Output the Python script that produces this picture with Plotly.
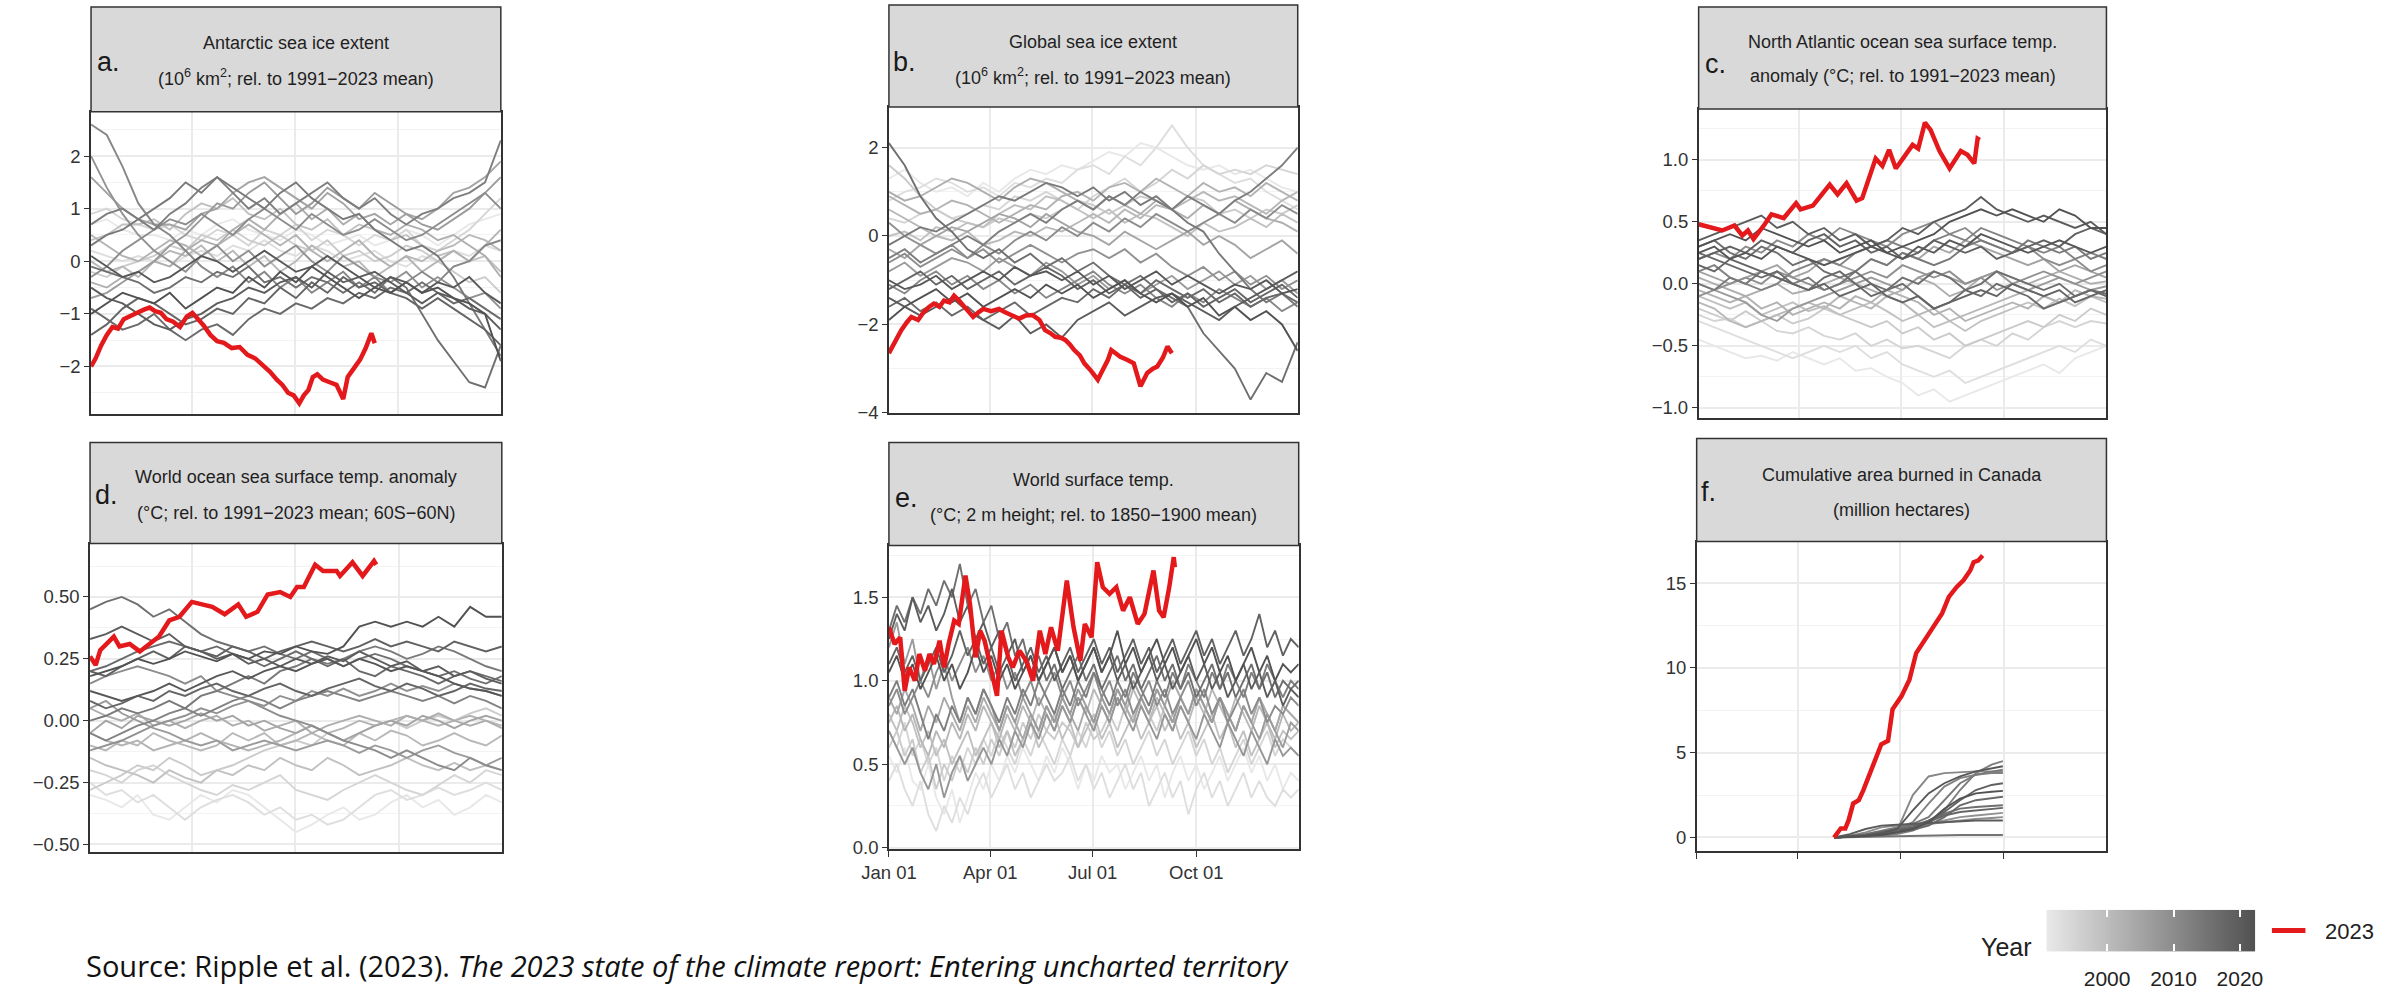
import plotly.graph_objects as go

W, H = 2407, 999
FONT = "Liberation Sans, Arial, sans-serif"
RED = "#E3191C"

# ---------------- day-of-year sampling used by the yearly series ----------------
DAYS_14 = list(range(1, 366, 14))
DAYS_7 = list(range(1, 366, 7))
DAYS_FIRE = [123, 137, 151, 165, 179, 193, 207, 221, 235, 249, 263, 273]

# ---------------- a. Antarctic sea ice extent anomaly (10^6 km2) ----------------
YEARS_A = [1991, 1993, 1995, 1997, 1999, 2001, 2003, 2005, 2007, 2009, 2011, 2013, 2014, 2016, 2018, 2020, 2022,
           2002, 2010, 2017, 2021]
ANTARCTIC = [
    [0.7,0.8,0.6,0.5,0.5,0.4,0.6,0.5,0.7,0.8,0.6,0.5,0.4,0.6,0.5,0.3,0.4,0.5,0.3,0.4,0.6,0.5,0.3,0.5,0.7,0.8,0.9],
    [0.2,0.1,0.0,0.1,0.0,-0.1,0.1,0.2,0.1,0.3,0.2,0.4,0.2,0.1,0.3,0.2,0.0,0.1,0.2,0.0,-0.1,0.1,0.0,0.2,0.1,0.3,0.2],
    [0.9,1.0,0.8,0.7,0.6,0.7,0.5,0.4,0.6,0.5,0.3,0.6,0.5,0.7,0.4,0.6,0.5,0.3,0.5,0.4,0.6,0.3,0.2,0.4,0.6,0.9,1.2],
    [-0.2,-0.3,-0.1,0.0,0.1,0.3,0.2,0.5,0.4,0.6,0.4,0.3,0.5,0.3,0.2,0.4,0.1,0.2,0.0,0.1,0.3,0.2,0.0,-0.2,-0.4,-0.3,-0.6],
    [0.4,0.5,0.7,0.7,0.8,0.6,0.9,1.1,1.0,1.2,0.9,0.8,1.0,0.7,0.6,0.8,0.5,0.7,0.6,0.4,0.5,0.3,0.1,0.2,0.0,0.1,-0.2],
    [0.0,-0.2,-0.1,-0.3,0.0,0.2,0.1,0.3,0.0,0.2,-0.1,0.1,-0.2,0.0,0.3,0.1,-0.1,0.0,-0.3,-0.1,0.1,0.0,0.2,0.3,0.5,0.4,0.2],
    [-0.4,-0.5,-0.3,-0.2,0.0,-0.1,0.2,0.4,0.3,0.6,0.8,0.6,0.9,1.1,0.8,1.0,0.7,0.9,0.6,0.5,0.7,0.6,0.4,0.5,0.3,0.1,-0.3],
    [1.6,1.3,1.0,0.8,0.7,0.7,0.6,0.9,1.0,1.3,1.5,1.6,1.4,1.2,1.0,1.3,1.1,0.8,0.9,0.7,0.9,0.8,1.0,1.3,1.4,1.6,1.9],
    [-0.7,-0.6,-0.4,-0.2,0.0,0.3,0.5,0.8,1.1,1.0,1.3,1.5,1.2,0.9,1.1,1.4,1.2,1.0,1.3,1.1,0.9,0.7,0.6,0.8,1.0,1.3,1.6],
    [2.0,1.4,0.9,0.5,0.2,0.0,-0.2,0.1,0.3,0.0,0.2,-0.1,0.1,0.3,0.0,-0.2,0.1,-0.1,-0.3,-0.4,-0.2,-0.5,-0.3,-0.5,-0.7,-0.6,-0.9],
    [2.6,2.4,1.8,1.1,0.7,0.5,0.2,-0.1,-0.3,-0.1,-0.4,-0.2,-0.5,-0.3,-0.6,-0.4,-0.2,-0.5,-0.3,-0.6,-0.4,-0.2,-0.4,-0.1,0.0,0.3,0.4],
    [0.7,0.9,1.0,0.8,0.6,0.9,1.1,1.4,1.6,1.3,1.0,1.2,0.9,1.1,1.3,1.5,1.2,1.0,1.2,0.9,0.7,0.9,1.0,1.2,1.3,1.5,2.3],
    [0.3,0.5,0.6,0.8,1.0,1.2,1.5,1.3,1.6,1.4,1.2,1.0,1.3,1.5,1.2,1.0,0.8,0.9,0.6,0.4,0.2,0.3,0.1,-0.3,-0.8,-1.3,-1.8],
    [-0.1,-0.2,-0.3,-0.4,-0.6,-0.5,-0.3,-0.4,-0.2,-0.3,-0.1,-0.4,-0.3,-0.5,-0.3,-0.4,-0.6,-0.4,-0.6,-0.3,-0.5,-1.0,-1.5,-1.9,-2.3,-2.4,-1.6],
    [-1.4,-1.2,-0.9,-0.7,-0.8,-1.0,-1.2,-1.1,-0.9,-1.0,-0.7,-0.8,-0.5,-0.7,-0.4,-0.6,-0.3,-0.5,-0.4,-0.6,-0.7,-0.9,-0.7,-0.9,-1.1,-1.3,-1.6],
    [-0.5,-0.7,-0.8,-1.0,-1.2,-1.3,-1.1,-1.0,-0.8,-0.7,-0.5,-0.6,-0.4,-0.3,-0.5,-0.2,-0.4,-0.3,-0.2,-0.4,-0.6,-0.8,-0.6,-0.7,-0.9,-1.0,-1.3],
    [-1.0,-0.8,-0.6,-0.7,-0.8,-0.6,-0.9,-0.7,-0.5,-0.6,-0.3,-0.5,-0.2,-0.4,-0.1,-0.3,-0.5,-0.7,-0.5,-0.6,-0.4,-0.6,-0.5,-0.7,-0.8,-1.0,-1.9],
    [0.5,0.3,0.1,0.0,0.2,0.4,0.3,0.1,0.3,0.5,0.7,0.5,0.3,0.5,0.2,0.0,0.2,0.4,0.1,-0.1,0.1,-0.2,0.0,0.2,0.0,0.3,0.6],
    [-0.3,-0.1,0.2,0.4,0.6,0.8,0.7,0.9,0.7,0.5,0.8,1.0,0.8,0.6,0.9,0.7,0.5,0.6,0.8,0.6,0.4,0.5,0.7,0.9,1.1,1.3,1.0],
    [-0.9,-1.1,-1.3,-1.2,-1.0,-1.3,-1.5,-1.3,-1.2,-1.4,-1.1,-0.9,-1.0,-0.8,-0.9,-0.7,-0.8,-0.6,-0.7,-0.5,-0.6,-0.4,-0.6,-0.8,-0.7,-0.9,-1.1],
    [0.1,-0.1,-0.3,-0.2,-0.4,-0.3,-0.1,0.1,0.0,-0.2,0.0,0.2,0.0,-0.2,-0.1,0.1,-0.1,-0.3,-0.5,-0.3,-0.4,-0.6,-0.4,-0.5,-0.3,-0.6,-0.8],
]
ANTARCTIC_2023_DAYS = [1,5,10,15,20,25,30,36,42,48,53,58,63,68,74,80,86,91,96,101,107,113,119,126,133,140,147,154,160,166,
                       171,176,181,186,190,194,198,202,207,213,219,225,229,234,240,245,250,253]
ANTARCTIC_2023 = [-2.0,-1.85,-1.6,-1.4,-1.25,-1.28,-1.1,-1.05,-0.98,-0.92,-0.88,-0.95,-0.98,-1.1,-1.15,-1.25,-1.05,-0.98,-1.1,-1.22,
                  -1.4,-1.52,-1.55,-1.65,-1.63,-1.78,-1.85,-1.98,-2.1,-2.25,-2.35,-2.5,-2.55,-2.7,-2.55,-2.45,-2.2,-2.15,-2.25,-2.3,
                  -2.35,-2.62,-2.2,-2.05,-1.87,-1.65,-1.37,-1.56]

# ---------------- b. Global sea ice extent anomaly (10^6 km2) ----------------
YEARS_B = YEARS_A
GLOBAL_ICE = [
    [1.3,1.5,1.2,1.0,1.1,0.9,1.2,1.0,1.3,1.5,1.4,1.6,1.5,1.7,1.9,1.8,2.1,2.0,1.8,1.6,1.5,1.6,1.4,1.5,1.3,1.1,1.0],
    [0.8,1.0,1.1,1.3,1.2,1.0,1.1,0.9,1.2,1.1,1.3,1.2,1.5,1.6,1.4,1.8,1.6,2.0,2.5,2.0,1.6,1.4,1.2,1.3,1.0,0.8,0.6],
    [0.4,0.3,0.5,0.6,0.4,0.5,0.7,0.6,0.9,0.8,1.0,0.8,0.6,0.9,1.1,1.3,1.0,1.2,1.5,1.3,1.6,1.4,1.5,1.4,1.6,1.5,1.4],
    [1.6,1.3,0.9,0.6,0.4,0.3,0.2,0.4,0.3,0.5,0.4,0.6,0.8,0.7,0.5,0.7,0.9,0.8,0.6,0.9,0.8,0.5,0.6,0.4,0.6,0.5,0.7],
    [0.0,0.1,-0.1,0.2,0.1,0.3,0.2,0.5,0.7,0.6,0.9,0.8,0.6,0.4,0.6,0.3,0.5,0.4,0.2,0.0,0.3,0.1,0.2,0.4,0.2,0.5,0.3],
    [0.6,0.4,0.2,0.0,-0.1,0.1,-0.2,-0.1,0.1,0.0,0.2,0.1,0.3,0.5,0.3,0.6,0.4,0.7,0.6,0.8,1.0,0.8,0.9,0.7,0.5,0.8,1.0],
    [1.0,0.8,0.9,1.1,1.3,1.2,1.0,0.8,1.1,1.3,1.2,1.0,0.8,0.6,0.9,0.7,0.5,0.8,0.6,0.4,0.7,0.5,0.8,0.6,0.4,0.3,0.1],
    [-0.3,-0.5,-0.2,0.0,0.2,0.1,0.3,0.5,0.4,0.2,0.5,0.3,0.1,0.0,-0.2,0.1,-0.1,-0.3,-0.1,0.1,-0.2,0.0,-0.2,-0.5,-0.3,-0.1,-0.4],
    [-0.8,-0.6,-0.9,-0.7,-0.5,-0.6,-0.8,-0.5,-0.7,-0.9,-0.6,-0.8,-1.1,-0.9,-1.2,-1.0,-1.3,-1.1,-0.9,-1.2,-1.0,-0.8,-1.1,-0.9,-1.2,-1.0,-1.3],
    [0.3,0.0,-0.2,-0.4,-0.2,-0.5,-0.3,-0.6,-0.4,-0.2,-0.4,-0.6,-0.4,-0.3,-0.5,-0.3,-0.6,-0.4,-0.7,-0.9,-0.7,-1.0,-0.8,-1.1,-0.9,-1.2,-1.0],
    [-1.1,-1.3,-1.0,-0.8,-1.1,-0.9,-1.2,-1.0,-1.3,-1.1,-1.4,-1.2,-1.0,-0.8,-1.1,-1.3,-1.1,-1.4,-1.6,-1.3,-1.5,-1.2,-1.4,-1.6,-1.4,-1.7,-1.5],
    [-0.5,-0.3,-0.6,-0.4,-0.2,0.0,-0.2,0.1,0.3,0.5,0.3,0.6,0.8,0.6,0.9,0.7,1.0,0.8,0.6,0.9,0.7,0.5,0.8,1.0,1.3,1.6,2.0],
    [-0.2,0.0,0.2,0.1,0.3,0.5,0.7,0.9,0.8,1.0,1.2,1.1,0.9,1.1,0.8,1.0,0.7,0.9,0.6,0.3,0.1,-0.4,-0.8,-1.2,-1.5,-1.3,-1.6],
    [2.1,1.6,0.9,0.4,0.1,-0.3,-0.5,-0.3,-0.6,-0.4,-0.7,-0.5,-0.8,-0.6,-0.9,-1.1,-0.9,-1.2,-1.4,-1.6,-2.2,-2.6,-3.0,-3.7,-3.1,-3.3,-2.4],
    [-1.2,-1.0,-0.8,-1.1,-0.9,-1.2,-1.0,-0.8,-1.1,-0.9,-0.7,-0.9,-1.2,-1.0,-1.3,-1.1,-1.4,-1.2,-1.5,-1.3,-1.6,-1.4,-1.2,-1.5,-1.3,-1.1,-1.4],
    [-1.4,-1.6,-1.8,-1.6,-1.4,-1.7,-1.9,-2.1,-1.8,-2.2,-2.0,-2.3,-1.9,-1.7,-1.5,-1.8,-1.6,-1.4,-1.3,-1.5,-1.7,-1.9,-1.6,-1.4,-1.2,-1.0,-0.8],
    [-1.9,-1.6,-1.4,-1.2,-1.5,-1.3,-1.6,-1.4,-1.2,-1.4,-1.1,-1.3,-1.1,-1.4,-1.2,-1.0,-1.3,-1.5,-1.3,-1.6,-1.4,-1.8,-1.6,-1.9,-1.7,-2.0,-2.6],
    [0.9,0.7,0.5,0.6,0.8,0.7,0.5,0.3,0.5,0.7,0.6,0.9,1.0,0.8,1.1,1.2,1.0,1.3,1.1,0.9,1.2,1.0,1.1,0.9,1.2,1.0,0.8],
    [-0.6,-0.4,-0.7,-0.5,-0.3,-0.5,-0.2,-0.4,-0.1,0.1,-0.1,0.2,0.0,0.3,0.1,0.4,0.2,0.5,0.3,0.1,0.3,0.5,0.3,0.6,0.4,0.7,0.5],
    [-1.6,-1.4,-1.7,-1.5,-1.8,-1.6,-1.9,-1.7,-1.5,-1.8,-1.6,-1.4,-1.5,-1.2,-1.4,-1.1,-1.3,-1.0,-1.2,-1.4,-1.2,-1.5,-1.3,-1.6,-1.4,-1.3,-1.5],
    [-1.0,-1.2,-1.1,-0.9,-1.2,-1.0,-0.8,-1.0,-0.7,-0.9,-0.8,-1.0,-0.8,-1.1,-0.9,-1.2,-1.0,-0.8,-1.1,-0.9,-1.1,-1.3,-1.1,-1.2,-1.0,-1.3,-1.2],
]
GLOBAL_ICE_2023_DAYS = [1,6,12,17,21,27,32,37,41,46,50,55,59,63,68,72,76,81,85,92,99,104,108,113,117,123,129,135,140,145,
                        149,154,158,162,166,171,175,181,187,190,193,196,199,203,207,213,219,225,231,236,240,245,249,253]
GLOBAL_ICE_2023 = [-2.65,-2.4,-2.13,-1.95,-1.83,-1.9,-1.72,-1.6,-1.53,-1.6,-1.46,-1.5,-1.35,-1.45,-1.61,-1.7,-1.83,-1.72,-1.65,-1.7,
                   -1.65,-1.72,-1.76,-1.82,-1.87,-1.8,-1.79,-1.9,-2.13,-2.2,-2.28,-2.3,-2.35,-2.45,-2.58,-2.7,-2.88,-3.05,-3.25,-3.1,
                   -2.95,-2.8,-2.58,-2.65,-2.73,-2.8,-2.88,-3.4,-3.1,-3.0,-2.95,-2.75,-2.5,-2.65]

# ---------------- c. North Atlantic SST anomaly (deg C) ----------------
YEARS_C = [1991, 1993, 1995, 1997, 1999, 2001, 2003, 2005, 2007, 2010, 2012, 2014, 2016, 2017, 2019, 2020, 2022,
           2002, 2009, 2018, 2021]
NATL_SST = [
    [-0.45,-0.5,-0.55,-0.6,-0.58,-0.62,-0.55,-0.6,-0.65,-0.6,-0.7,-0.68,-0.75,-0.8,-0.9,-0.85,-0.95,-0.9,-0.85,-0.8,-0.75,-0.7,-0.65,-0.72,-0.6,-0.55,-0.5],
    [-0.3,-0.35,-0.4,-0.45,-0.5,-0.55,-0.6,-0.55,-0.5,-0.55,-0.5,-0.6,-0.55,-0.65,-0.7,-0.75,-0.7,-0.8,-0.75,-0.7,-0.65,-0.6,-0.55,-0.5,-0.55,-0.45,-0.5],
    [-0.25,-0.3,-0.28,-0.35,-0.3,-0.38,-0.4,-0.35,-0.42,-0.45,-0.4,-0.5,-0.45,-0.52,-0.5,-0.55,-0.6,-0.5,-0.45,-0.5,-0.4,-0.45,-0.35,-0.3,-0.35,-0.3,-0.32],
    [-0.2,-0.25,-0.3,-0.22,-0.3,-0.25,-0.32,-0.28,-0.2,-0.25,-0.3,-0.35,-0.3,-0.4,-0.35,-0.45,-0.4,-0.5,-0.45,-0.4,-0.35,-0.3,-0.35,-0.25,-0.3,-0.2,-0.25],
    [-0.1,-0.15,-0.2,-0.15,-0.25,-0.2,-0.15,-0.22,-0.18,-0.25,-0.2,-0.15,-0.22,-0.3,-0.25,-0.35,-0.3,-0.38,-0.3,-0.25,-0.2,-0.15,-0.2,-0.12,-0.18,-0.1,-0.15],
    [-0.15,-0.2,-0.3,-0.35,-0.3,-0.25,-0.2,-0.15,-0.2,-0.1,-0.15,-0.2,-0.1,-0.15,-0.25,-0.2,-0.3,-0.25,-0.2,-0.15,-0.1,-0.05,-0.1,-0.15,-0.05,-0.1,-0.12],
    [0.05,0.0,-0.05,-0.1,-0.05,0.0,-0.08,-0.05,0.0,0.05,0.0,-0.05,-0.1,-0.05,0.05,0.0,-0.1,-0.05,0.05,0.1,0.05,0.0,0.05,0.1,0.05,0.0,0.02],
    [0.1,0.05,0.0,0.05,0.1,0.15,0.05,0.1,0.2,0.15,0.1,0.2,0.15,0.25,0.2,0.3,0.25,0.35,0.3,0.25,0.2,0.15,0.2,0.1,0.15,0.1,0.05],
    [0.0,-0.05,-0.1,-0.15,-0.25,-0.3,-0.2,-0.15,-0.1,-0.05,0.0,0.05,0.0,-0.05,0.05,0.1,0.05,0.0,0.05,0.1,0.0,-0.05,0.0,0.05,0.0,-0.05,-0.02],
    [0.2,0.25,0.2,0.3,0.25,0.35,0.3,0.4,0.35,0.45,0.4,0.35,0.3,0.4,0.45,0.5,0.4,0.45,0.35,0.3,0.25,0.3,0.2,0.15,0.2,0.1,0.15],
    [0.1,0.15,0.05,0.0,-0.05,0.0,0.1,0.15,0.2,0.15,0.25,0.3,0.35,0.3,0.25,0.35,0.4,0.35,0.45,0.4,0.35,0.3,0.25,0.3,0.2,0.25,0.2],
    [0.0,-0.05,0.05,0.0,0.1,0.05,0.0,0.05,-0.05,0.0,0.1,0.2,0.15,0.25,0.2,0.15,0.2,0.3,0.35,0.3,0.25,0.35,0.3,0.25,0.3,0.2,0.25],
    [0.3,0.35,0.25,0.2,0.3,0.25,0.15,0.2,0.1,0.05,0.1,0.0,-0.05,0.05,0.0,0.1,0.05,-0.05,0.0,0.1,0.05,0.0,-0.05,0.0,-0.1,-0.05,-0.08],
    [0.25,0.2,0.15,0.1,0.05,0.1,0.0,-0.05,0.05,0.1,0.0,-0.1,-0.05,0.0,-0.1,-0.2,-0.15,-0.05,-0.1,0.0,-0.05,-0.1,-0.2,-0.15,-0.1,-0.05,-0.1],
    [0.2,0.25,0.3,0.25,0.35,0.3,0.25,0.35,0.4,0.3,0.35,0.25,0.3,0.2,0.25,0.35,0.3,0.25,0.3,0.2,0.25,0.3,0.35,0.3,0.4,0.45,0.4],
    [0.35,0.4,0.45,0.5,0.55,0.45,0.5,0.4,0.45,0.35,0.4,0.3,0.35,0.45,0.4,0.5,0.55,0.6,0.7,0.6,0.55,0.5,0.55,0.5,0.45,0.5,0.4],
    [0.3,0.35,0.4,0.35,0.45,0.4,0.35,0.3,0.35,0.25,0.3,0.35,0.25,0.3,0.35,0.4,0.5,0.55,0.6,0.55,0.6,0.55,0.5,0.6,0.55,0.45,0.45],
    [-0.05,-0.1,-0.15,-0.1,-0.2,-0.15,-0.25,-0.2,-0.15,-0.2,-0.1,-0.15,-0.05,-0.1,-0.15,-0.25,-0.2,-0.3,-0.25,-0.2,-0.15,-0.2,-0.1,-0.15,-0.1,-0.05,-0.1],
    [-0.1,-0.05,0.0,0.05,0.0,0.1,0.05,0.0,-0.05,0.0,0.05,0.1,0.05,0.15,0.1,0.05,0.1,0.0,0.05,-0.05,0.0,0.05,0.1,0.05,0.0,0.05,0.1],
    [0.15,0.1,0.2,0.15,0.1,0.05,0.0,-0.05,0.0,-0.1,-0.05,0.0,-0.1,-0.15,-0.1,-0.2,-0.15,-0.1,-0.05,-0.1,0.0,-0.05,-0.1,-0.05,-0.15,-0.1,-0.05],
    [0.25,0.3,0.2,0.25,0.2,0.3,0.25,0.2,0.15,0.2,0.25,0.3,0.25,0.2,0.3,0.25,0.35,0.3,0.4,0.35,0.3,0.25,0.3,0.35,0.3,0.25,0.3],
]
NATL_SST_2023_DAYS = [1,10,22,33,40,45,50,60,66,77,88,92,103,118,125,133,142,147,159,165,171,177,185,192,197,203,208,216,225,235,241,247,250,252]
NATL_SST_2023 = [0.48,0.46,0.43,0.47,0.39,0.43,0.36,0.48,0.56,0.53,0.65,0.60,0.63,0.80,0.72,0.81,0.67,0.69,1.01,0.95,
                 1.08,0.93,1.04,1.12,1.09,1.30,1.24,1.07,0.93,1.07,1.04,0.97,1.17,1.16]

# ---------------- d. World ocean SST anomaly, 60S-60N (deg C) ----------------
YEARS_D = YEARS_C
WORLD_SST = [
    [-0.3,-0.32,-0.35,-0.3,-0.38,-0.4,-0.35,-0.3,-0.33,-0.28,-0.3,-0.35,-0.4,-0.45,-0.42,-0.38,-0.35,-0.4,-0.38,-0.33,-0.3,-0.35,-0.32,-0.38,-0.35,-0.3,-0.33],
    [-0.25,-0.3,-0.28,-0.33,-0.3,-0.35,-0.4,-0.35,-0.32,-0.3,-0.33,-0.38,-0.35,-0.4,-0.38,-0.42,-0.4,-0.35,-0.3,-0.28,-0.32,-0.3,-0.27,-0.3,-0.28,-0.25,-0.28],
    [-0.2,-0.22,-0.25,-0.2,-0.18,-0.22,-0.25,-0.28,-0.3,-0.26,-0.28,-0.25,-0.22,-0.28,-0.3,-0.32,-0.28,-0.25,-0.22,-0.25,-0.28,-0.3,-0.26,-0.22,-0.25,-0.2,-0.22],
    [-0.28,-0.25,-0.22,-0.18,-0.2,-0.15,-0.18,-0.22,-0.2,-0.18,-0.15,-0.12,-0.1,-0.08,-0.1,-0.05,-0.08,-0.05,-0.02,0.0,-0.03,0.0,0.02,0.0,0.03,0.05,0.02],
    [-0.15,-0.18,-0.2,-0.22,-0.25,-0.2,-0.23,-0.25,-0.2,-0.22,-0.18,-0.2,-0.15,-0.18,-0.2,-0.15,-0.18,-0.22,-0.2,-0.18,-0.15,-0.18,-0.2,-0.17,-0.2,-0.18,-0.2],
    [-0.1,-0.12,-0.08,-0.1,-0.05,-0.08,-0.1,-0.12,-0.1,-0.05,-0.08,-0.05,-0.1,-0.08,-0.05,-0.08,-0.1,-0.05,-0.08,-0.04,-0.06,-0.1,-0.08,-0.05,-0.08,-0.1,-0.06],
    [0.05,0.02,0.0,0.03,-0.02,0.0,-0.03,0.0,0.02,-0.02,0.0,-0.04,-0.02,0.0,-0.05,-0.02,0.0,0.02,0.0,-0.02,0.02,0.0,0.03,0.0,-0.02,0.0,-0.03],
    [-0.05,0.0,-0.03,0.02,0.0,-0.02,0.0,0.03,0.0,0.02,-0.02,0.0,-0.03,-0.05,-0.02,-0.05,-0.08,-0.05,-0.02,0.0,-0.02,0.02,0.0,-0.03,0.0,0.02,0.0],
    [0.05,0.08,0.03,0.0,-0.03,-0.05,-0.08,-0.1,-0.08,-0.12,-0.1,-0.08,-0.1,-0.12,-0.1,-0.08,-0.1,-0.13,-0.1,-0.12,-0.15,-0.12,-0.1,-0.13,-0.15,-0.18,-0.15],
    [0.15,0.18,0.2,0.22,0.2,0.18,0.15,0.18,0.12,0.1,0.08,0.05,0.02,0.0,-0.02,-0.05,-0.08,-0.1,-0.12,-0.15,-0.12,-0.15,-0.18,-0.2,-0.15,-0.18,-0.2],
    [-0.05,-0.08,-0.05,-0.02,0.0,0.03,0.05,0.02,0.05,0.08,0.1,0.08,0.05,0.08,0.1,0.12,0.1,0.08,0.1,0.12,0.1,0.08,0.1,0.07,0.1,0.08,0.05],
    [0.0,0.02,0.05,0.03,0.05,0.08,0.05,0.1,0.12,0.15,0.18,0.15,0.2,0.22,0.25,0.23,0.25,0.28,0.3,0.28,0.25,0.27,0.3,0.28,0.25,0.22,0.2],
    [0.45,0.48,0.5,0.47,0.42,0.45,0.4,0.35,0.32,0.3,0.28,0.3,0.27,0.25,0.28,0.25,0.22,0.25,0.27,0.25,0.22,0.2,0.18,0.2,0.17,0.15,0.18],
    [0.2,0.22,0.25,0.28,0.3,0.32,0.3,0.28,0.3,0.27,0.25,0.22,0.25,0.28,0.25,0.22,0.25,0.2,0.18,0.22,0.2,0.18,0.15,0.18,0.2,0.18,0.16],
    [0.2,0.18,0.22,0.25,0.28,0.25,0.3,0.28,0.26,0.3,0.28,0.25,0.28,0.3,0.32,0.3,0.28,0.3,0.33,0.3,0.32,0.3,0.28,0.32,0.3,0.28,0.3],
    [0.33,0.35,0.38,0.35,0.32,0.35,0.3,0.28,0.25,0.27,0.23,0.25,0.22,0.25,0.23,0.26,0.24,0.28,0.25,0.22,0.24,0.2,0.22,0.18,0.2,0.17,0.15],
    [0.18,0.2,0.22,0.25,0.23,0.25,0.28,0.26,0.24,0.27,0.25,0.28,0.27,0.3,0.28,0.27,0.3,0.38,0.4,0.38,0.4,0.38,0.42,0.38,0.46,0.42,0.42],
    [-0.05,-0.08,-0.1,-0.08,-0.12,-0.1,-0.08,-0.05,-0.08,-0.1,-0.12,-0.1,-0.08,-0.05,-0.02,-0.05,-0.03,0.0,-0.02,0.0,0.02,0.0,-0.02,0.0,0.02,0.0,-0.02],
    [-0.12,-0.1,-0.08,-0.05,-0.02,0.0,0.02,0.05,0.03,0.06,0.08,0.06,0.1,0.08,0.12,0.1,0.13,0.1,0.12,0.15,0.12,0.14,0.12,0.15,0.13,0.12,0.1],
    [0.08,0.05,0.07,0.1,0.08,0.12,0.1,0.13,0.15,0.12,0.1,0.13,0.15,0.12,0.1,0.13,0.15,0.17,0.14,0.12,0.15,0.13,0.1,0.12,0.15,0.13,0.12],
    [0.12,0.1,0.08,0.1,0.12,0.15,0.12,0.15,0.18,0.2,0.17,0.2,0.22,0.2,0.23,0.25,0.22,0.25,0.23,0.2,0.22,0.2,0.18,0.15,0.13,0.12,0.1],
]
WORLD_SST_2023_DAYS = [1,6,10,22,27,36,45,53,62,71,80,91,100,109,120,132,139,149,158,169,178,184,190,200,207,219,222,233,242,248,252,254]
WORLD_SST_2023 = [0.26,0.225,0.285,0.34,0.30,0.31,0.28,0.31,0.34,0.405,0.42,0.48,0.47,0.46,0.43,0.47,0.42,0.44,0.51,0.52,
                  0.50,0.54,0.54,0.63,0.605,0.605,0.585,0.64,0.585,0.62,0.645,0.63]

# ---------------- e. World surface air temperature (deg C above 1850-1900) ----------------
YEARS_E = [1991, 1993, 1995, 1997, 1999, 2001, 2004, 2007, 2008, 2010, 2013, 2016, 2019, 2020, 2022]
SURFACE_TEMP = [
    [0.55,0.45,0.6,0.4,0.35,0.5,0.3,0.2,0.35,0.15,0.3,0.45,0.35,0.5,0.4,0.55,0.45,0.6,0.5,0.4,0.55,0.45,0.6,0.5,0.35,0.5,0.4,0.55,0.45,0.5,0.35,0.45,0.55,0.4,0.5,0.3,0.45,0.55,0.4,0.5,0.35,0.45,0.55,0.4,0.5,0.6,0.45,0.55,0.4,0.5,0.35,0.45,0.4],
    [0.4,0.5,0.35,0.25,0.4,0.2,0.1,0.25,0.15,0.3,0.2,0.35,0.45,0.3,0.4,0.5,0.35,0.45,0.3,0.4,0.5,0.4,0.45,0.55,0.4,0.5,0.35,0.45,0.3,0.4,0.5,0.35,0.45,0.25,0.35,0.45,0.3,0.4,0.2,0.35,0.45,0.3,0.4,0.25,0.35,0.45,0.3,0.4,0.3,0.25,0.35,0.3,0.35],
    [0.7,0.6,0.75,0.55,0.65,0.5,0.6,0.4,0.55,0.45,0.6,0.5,0.65,0.55,0.7,0.6,0.5,0.65,0.55,0.7,0.6,0.5,0.65,0.55,0.7,0.6,0.75,0.6,0.7,0.55,0.65,0.5,0.6,0.7,0.55,0.65,0.5,0.6,0.7,0.55,0.65,0.5,0.6,0.45,0.55,0.65,0.5,0.6,0.7,0.55,0.65,0.6,0.55],
    [0.6,0.7,0.55,0.65,0.45,0.55,0.35,0.5,0.4,0.55,0.45,0.6,0.5,0.65,0.55,0.7,0.6,0.75,0.65,0.8,0.7,0.65,0.75,0.7,0.6,0.75,0.65,0.7,0.8,0.7,0.85,0.75,0.9,0.8,0.7,0.85,0.75,0.9,0.8,0.95,0.85,0.75,0.9,0.8,0.7,0.85,0.75,0.9,0.8,0.7,0.85,0.8,0.75],
    [0.8,0.7,0.85,0.75,0.6,0.7,0.55,0.65,0.5,0.6,0.7,0.55,0.65,0.75,0.6,0.7,0.55,0.65,0.75,0.6,0.7,0.8,0.65,0.75,0.6,0.7,0.8,0.65,0.75,0.6,0.7,0.8,0.65,0.75,0.85,0.7,0.8,0.65,0.75,0.6,0.7,0.8,0.65,0.75,0.6,0.7,0.55,0.65,0.75,0.6,0.7,0.65,0.7],
    [0.75,0.85,0.7,0.8,0.65,0.55,0.7,0.6,0.75,0.65,0.8,0.7,0.85,0.75,0.65,0.8,0.7,0.85,0.75,0.9,0.8,0.7,0.85,0.75,0.9,0.8,0.95,0.85,0.75,0.9,0.8,0.95,0.85,0.75,0.9,0.8,0.7,0.85,0.75,0.9,0.8,0.95,0.85,0.75,0.9,0.8,0.7,0.85,0.75,0.65,0.8,0.7,0.75],
    [0.9,0.8,0.95,0.85,0.7,0.85,0.75,0.9,0.8,0.7,0.85,0.75,0.9,0.8,0.7,0.85,0.75,0.65,0.8,0.7,0.85,0.75,0.9,0.8,0.7,0.85,0.75,0.9,0.8,0.95,0.85,0.75,0.9,0.8,0.95,0.85,1.0,0.9,0.8,0.95,0.85,0.75,0.9,0.8,0.7,0.85,0.75,0.9,0.8,0.7,0.85,0.8,0.75],
    [1.2,1.35,1.1,1.25,1.0,1.15,0.95,1.1,0.9,0.75,0.9,0.8,0.95,0.85,0.7,0.85,0.75,0.9,0.8,0.7,0.85,0.75,0.9,0.8,0.95,0.85,0.75,0.9,0.8,0.95,0.85,1.0,0.9,0.8,0.95,0.85,0.75,0.9,0.8,0.95,0.85,0.75,0.9,0.8,0.7,0.85,0.75,0.65,0.8,0.7,0.6,0.75,0.7],
    [0.7,0.6,0.5,0.6,0.45,0.35,0.5,0.3,0.45,0.55,0.4,0.5,0.6,0.5,0.65,0.55,0.7,0.6,0.75,0.65,0.8,0.7,0.85,0.75,0.9,0.8,0.7,0.85,0.75,0.9,0.8,0.7,0.85,0.75,0.65,0.8,0.7,0.85,0.75,0.65,0.8,0.7,0.6,0.75,0.65,0.55,0.7,0.6,0.5,0.65,0.55,0.6,0.55],
    [0.85,0.95,0.8,0.9,1.0,0.9,1.05,1.15,1.0,1.1,1.2,1.05,1.15,1.0,1.1,0.95,1.05,0.9,1.0,0.85,0.95,1.05,0.9,1.0,0.85,0.95,1.05,0.9,1.0,0.85,0.95,0.8,0.9,1.0,0.85,0.95,0.8,0.9,1.0,0.85,0.95,0.8,0.9,0.75,0.85,0.95,0.8,0.9,0.75,0.85,0.8,0.9,0.85],
    [0.9,1.0,0.85,0.95,0.8,0.65,0.8,0.7,0.85,0.75,0.9,0.8,0.95,0.85,0.75,0.9,0.8,0.95,0.85,1.0,0.9,0.8,0.95,0.85,1.0,0.9,1.05,0.95,0.85,1.0,0.9,1.05,0.95,0.85,1.0,0.9,1.05,0.95,1.1,1.0,0.9,1.05,0.95,1.1,1.0,0.9,1.05,0.95,1.1,1.0,0.9,1.0,0.95],
    [1.3,1.45,1.35,1.5,1.4,1.55,1.45,1.6,1.5,1.7,1.45,1.55,1.35,1.45,1.25,1.35,1.15,1.25,1.05,1.15,1.0,1.1,0.95,1.05,1.15,1.0,1.1,0.95,1.05,1.15,1.0,1.1,0.95,1.05,1.15,1.0,1.1,0.95,1.05,0.9,1.0,1.1,0.95,1.05,0.9,1.0,1.1,0.95,1.05,0.9,1.0,0.95,1.0],
    [1.1,1.2,1.05,1.15,1.0,1.1,1.2,1.05,1.15,1.3,1.15,1.25,1.1,1.2,1.05,1.15,1.0,1.1,1.2,1.05,1.15,1.0,1.1,1.2,1.05,1.15,1.25,1.1,1.2,1.05,1.15,1.25,1.1,1.2,1.05,1.15,1.25,1.1,1.2,1.3,1.15,1.25,1.1,1.2,1.3,1.15,1.25,1.4,1.2,1.3,1.15,1.25,1.2],
    [1.25,1.4,1.3,1.5,1.35,1.45,1.3,1.4,1.55,1.35,1.45,1.25,1.35,1.2,1.3,1.15,1.25,1.05,1.15,1.0,1.1,1.2,1.05,1.15,1.0,1.1,1.2,1.05,1.15,1.0,1.1,0.95,1.05,1.15,1.0,1.1,0.95,1.05,1.15,1.0,1.1,0.95,1.05,0.9,1.0,1.1,0.95,1.05,0.9,1.0,0.85,0.95,0.9],
    [1.05,1.15,1.0,1.1,0.95,1.05,1.15,1.0,1.1,0.95,1.05,1.2,1.05,1.15,1.0,1.1,0.95,1.05,1.15,1.0,1.1,1.2,1.05,1.15,1.0,1.1,1.2,1.05,1.15,1.3,1.1,1.2,1.05,1.15,1.25,1.1,1.2,1.05,1.15,1.25,1.1,1.2,1.05,1.15,1.0,1.1,1.2,1.05,1.15,1.0,1.1,1.05,1.1],
]
SURFACE_TEMP_2023_DAYS = [1,6,11,15,19,24,28,33,37,41,46,50,54,59,63,69,73,78,82,86,92,97,101,107,111,117,123,129,135,140,
                          145,151,159,165,171,175,181,186,191,197,203,209,215,222,228,236,241,245,250,254,255]
SURFACE_TEMP_2023 = [1.32,1.22,1.26,0.94,1.08,1.00,1.16,1.06,1.16,1.10,1.24,1.08,1.22,1.36,1.34,1.63,1.46,1.14,1.30,1.24,
                     1.06,0.91,1.30,1.14,1.08,1.18,1.12,1.00,1.30,1.16,1.32,1.18,1.60,1.32,1.12,1.34,1.26,1.71,1.56,1.52,
                     1.56,1.42,1.50,1.34,1.40,1.66,1.42,1.38,1.56,1.74,1.68]

# ---------------- f. Cumulative area burned in Canada (million ha) ----------------
YEARS_F = [2009, 2010, 2011, 2012, 2013, 2014, 2015, 2016, 2017, 2018, 2019, 2020, 2021, 2022]
FIRE_AREA = [
    [0,0.05,0.1,0.2,0.3,0.5,0.8,1.0,1.2,1.3,1.4,1.45],
    [0,0.1,0.3,0.6,0.7,0.75,0.8,0.9,1.0,1.1,1.15,1.2],
    [0,0.05,0.1,0.2,0.4,2.5,3.6,3.8,3.85,3.9,3.9,3.9],
    [0,0.05,0.15,0.3,0.5,0.9,2.0,3.0,3.5,3.7,3.8,3.8],
    [0,0.02,0.05,0.1,0.2,0.4,0.8,1.6,2.8,3.8,4.3,4.5],
    [0,0.05,0.2,0.4,0.6,0.8,1.2,2.2,3.2,3.7,3.9,4.0],
    [0,0.02,0.05,0.08,0.1,0.12,0.13,0.14,0.15,0.15,0.15,0.15],
    [0,0.1,0.2,0.35,0.5,0.7,1.0,1.4,1.7,1.8,1.85,1.9],
    [0,0.05,0.1,0.2,0.3,0.45,0.7,1.2,1.9,2.2,2.3,2.4],
    [0,0.05,0.15,0.3,0.45,0.6,0.9,1.3,1.5,1.6,1.7,1.75],
    [0,0.05,0.1,0.2,0.35,0.6,1.0,1.5,2.2,2.8,3.1,3.2],
    [0,0.2,0.5,0.7,0.75,0.8,0.85,0.9,0.95,1.0,1.0,1.0],
    [0,0.05,0.1,0.25,0.5,1.6,2.6,3.2,3.6,3.9,4.1,4.2],
    [0,0.05,0.1,0.15,0.3,0.5,0.9,1.7,2.3,2.6,2.7,2.75],
]
FIRE_AREA_2023_DAYS = [123,126,129,133,136,140,145,149,158,165,171,175,183,190,196,200,207,215,219,225,232,238,244,247,251,255]
FIRE_AREA_2023 = [0,0.24,0.53,0.53,1.02,2.0,2.2,2.78,4.24,5.5,5.71,7.56,8.34,9.31,10.88,11.27,12.05,12.73,13.22,14.2,
                  14.78,15.17,15.75,16.24,16.33,16.63]

# ---------------- axis / key labels ----------------
MONTH_TICKS = [1, 91, 182, 274]
MONTH_LABELS = ["Jan 01", "Apr 01", "Jul 01", "Oct 01"]
KEY_YEARS = list(range(1991, 2023))
KEY_TICKS = [2000, 2010, 2020]
YEAR_MIN, YEAR_MAX = 1991, 2022
GRAY_LIGHT, GRAY_DARK = 232, 82


def px_x(p):
    return p / W


def px_y(p):
    return 1 - p / H


def gray(year):
    t = (year - YEAR_MIN) / (YEAR_MAX - YEAR_MIN)
    g = round(GRAY_LIGHT - t * (GRAY_LIGHT - GRAY_DARK))
    return f"rgb({g},{g},{g})"


# panel layout: plot box (x0, x1, top, bottom) in px, header top, title rows, label spot
PANELS = [
    dict(label="a.", title=["Antarctic sea ice extent", "(10<sup>6</sup> km<sup>2</sup>; rel. to 1991\u22122023 mean)"],
         box=(64, 480, 113, 418), head=7, t1=43, t2=78, lab=(82, 63),
         yr=[-2.9, 2.84], dtick=1, minor=0.5, fmt="d",
         years=YEARS_A, series=ANTARCTIC, days=DAYS_14, rx=ANTARCTIC_2023_DAYS, ry=ANTARCTIC_2023),
    dict(label="b.", title=["Global sea ice extent", "(10<sup>6</sup> km<sup>2</sup>; rel. to 1991\u22122023 mean)"],
         box=(874, 1289, 108, 417), head=5, t1=42, t2=77, lab=(890, 63),
         yr=[-4.0, 2.92], dtick=2, minor=1, fmt="d",
         years=YEARS_B, series=GLOBAL_ICE, days=DAYS_14, rx=GLOBAL_ICE_2023_DAYS, ry=GLOBAL_ICE_2023),
    dict(label="c.", title=["North Atlantic ocean sea surface temp.", "anomaly (\u00b0C; rel. to 1991\u22122023 mean)"],
         box=(1696, 2110, 110, 422), head=7, t1=42, t2=77, lab=(1713, 65),
         yr=[-1.08, 1.41], dtick=0.5, minor=0.25, fmt=".1f",
         years=YEARS_C, series=NATL_SST, days=DAYS_14, rx=NATL_SST_2023_DAYS, ry=NATL_SST_2023),
    dict(label="d.", title=["World ocean sea surface temp. anomaly", "(\u00b0C; rel. to 1991\u22122023 mean; 60S\u221260N)"],
         box=(63, 481, 549, 861), head=447, t1=482, t2=518, lab=(80, 500),
         yr=[-0.532, 0.716], dtick=0.25, minor=0.125, fmt=".2f",
         years=YEARS_D, series=WORLD_SST, days=DAYS_14, rx=WORLD_SST_2023_DAYS, ry=WORLD_SST_2023),
    dict(label="e.", title=["World surface temp.", "(\u00b0C; 2 m height; rel. to 1850\u22121900 mean)"],
         box=(874, 1290, 551, 858), head=447, t1=485, t2=520, lab=(892, 503),
         yr=[-0.01, 1.81], dtick=0.5, minor=0.25, fmt=".1f",
         years=YEARS_E, series=SURFACE_TEMP, days=DAYS_7, rx=SURFACE_TEMP_2023_DAYS, ry=SURFACE_TEMP_2023),
    dict(label="f.", title=["Cumulative area burned in Canada", "(million hectares)"],
         box=(1694, 2110, 547, 860), head=443, t1=480, t2=515, lab=(1706, 497),
         yr=[-0.82, 17.46], dtick=5, minor=2.5, fmt="d",
         years=YEARS_F, series=FIRE_AREA, days=DAYS_FIRE, rx=FIRE_AREA_2023_DAYS, ry=FIRE_AREA_2023),
]

fig = go.Figure()
shapes, annotations = [], []
layout_axes = {}

for i, p in enumerate(PANELS, start=1):
    xa, ya = f"x{i}", f"y{i}"
    x0, x1, top, bottom = p["box"]

    # one gray line per year; lighter (older) years drawn first
    for year, vals in sorted(zip(p["years"], p["series"]), key=lambda yv: yv[0]):
        n = min(len(vals), len(p["days"]))
        fig.add_trace(go.Scatter(
            x=p["days"][:n], y=vals[:n], mode="lines",
            line=dict(color=gray(year), width=1.9),
            name=str(year), showlegend=False, hoverinfo="skip",
            xaxis=xa, yaxis=ya))

    # 2023 drawn last, in red
    fig.add_trace(go.Scatter(
        x=p["rx"], y=p["ry"], mode="lines",
        line=dict(color=RED, width=4.5),
        name="2023", showlegend=False,
        xaxis=xa, yaxis=ya))

    show_xlabels = p["label"] == "e."
    show_xticks = p["label"] in ("e.", "f.")
    layout_axes[f"xaxis{i}"] = dict(
        domain=[px_x(x0), px_x(x1)], anchor=ya, range=[1, 365],
        tickvals=MONTH_TICKS, ticktext=MONTH_LABELS,
        showticklabels=show_xlabels, ticks="outside" if show_xticks else "",
        ticklen=6, tickwidth=1.4, tickcolor="#333333",
        tickfont=dict(family=FONT, size=18.5, color="#333333"),
        showgrid=True, gridcolor="#EBEBEB", gridwidth=1.8, zeroline=False,
        showline=True, mirror=True, linecolor="#333333", linewidth=1.5)
    layout_axes[f"yaxis{i}"] = dict(
        domain=[px_y(bottom), px_y(top)], anchor=xa, range=p["yr"],
        tick0=0, dtick=p["dtick"], tickformat=p["fmt"],
        ticks="outside", ticklen=5, tickwidth=1.4, tickcolor="#333333",
        tickfont=dict(family=FONT, size=18.5, color="#333333"),
        showgrid=True, gridcolor="#EBEBEB", gridwidth=1.8, zeroline=False,
        minor=dict(tick0=0, dtick=p["minor"], showgrid=True, gridcolor="#F3F3F3", gridwidth=1.2, ticks=""),
        showline=True, mirror=True, linecolor="#333333", linewidth=1.5)

    # strip header
    shapes.append(dict(type="rect", xref="paper", yref="paper",
                       x0=px_x(x0), x1=px_x(x1), y0=px_y(top), y1=px_y(p["head"]),
                       fillcolor="#D9D9D9", line=dict(color="#333333", width=1.5), layer="above"))
    cx = px_x((x0 + x1) / 2)
    for txt, ty in zip(p["title"], (p["t1"], p["t2"])):
        annotations.append(dict(text=txt, x=cx, y=px_y(ty), xref="paper", yref="paper",
                                xanchor="center", yanchor="middle", showarrow=False,
                                font=dict(family=FONT, size=18, color="#1F1F1F")))
    annotations.append(dict(text=p["label"], x=px_x(p["lab"][0]), y=px_y(p["lab"][1]),
                            xref="paper", yref="paper", xanchor="center", yanchor="middle",
                            showarrow=False, font=dict(family=FONT, size=27, color="#1A1A1A")))

# Year key: a gradient strip on its own small axes
fig.add_trace(go.Heatmap(
    z=[KEY_YEARS, KEY_YEARS], x=KEY_YEARS, y=[0, 1], zmin=YEAR_MIN, zmax=YEAR_MAX,
    colorscale=[[0, f"rgb({GRAY_LIGHT},{GRAY_LIGHT},{GRAY_LIGHT})"], [1, f"rgb({GRAY_DARK},{GRAY_DARK},{GRAY_DARK})"]],
    zsmooth="best", showscale=False, hoverinfo="skip", xaxis="x7", yaxis="y7"))
layout_axes["xaxis7"] = dict(
    domain=[px_x(2049), px_x(2261)], anchor="y7", range=[1990.85, 2022.3],
    tickvals=KEY_TICKS, ticks="inside", ticklen=7, tickwidth=1.5, tickcolor="white",
    showline=True, linecolor="rgba(0,0,0,0)", mirror="ticks",
    showgrid=False, zeroline=False, ticklabelstandoff=8,
    tickfont=dict(family=FONT, size=21, color="#222222"))
layout_axes["yaxis7"] = dict(domain=[px_y(961), px_y(919)], anchor="x7", range=[-0.5, 1.5],
                             visible=False, fixedrange=True)

annotations.append(dict(text="Year", x=px_x(2009), y=px_y(957), xref="paper", yref="paper",
                        xanchor="center", yanchor="middle", showarrow=False,
                        font=dict(family=FONT, size=25, color="#222222")))
# 2023 key entry
shapes.append(dict(type="line", xref="paper", yref="paper",
                   x0=px_x(2278), x1=px_x(2312), y0=px_y(940), y1=px_y(940),
                   line=dict(color=RED, width=5)))
annotations.append(dict(text="2023", x=px_x(2330), y=px_y(941), xref="paper", yref="paper",
                        xanchor="left", yanchor="middle", showarrow=False,
                        font=dict(family=FONT, size=22, color="#222222")))

annotations.append(dict(
    text="Source: Ripple et al. (2023). <i>The 2023 state of the climate report: Entering uncharted territory</i>",
    x=px_x(57), y=px_y(975), xref="paper", yref="paper", xanchor="left", yanchor="middle",
    showarrow=False, font=dict(family="Open Sans, sans-serif", size=29, color="#111111")))

fig.update_layout(
    width=W, height=H, autosize=False,
    margin=dict(l=0, r=0, t=0, b=0),
    paper_bgcolor="white", plot_bgcolor="white",
    shapes=shapes, annotations=annotations,
    showlegend=False,
    **layout_axes)

fig.write_html("out.html")
